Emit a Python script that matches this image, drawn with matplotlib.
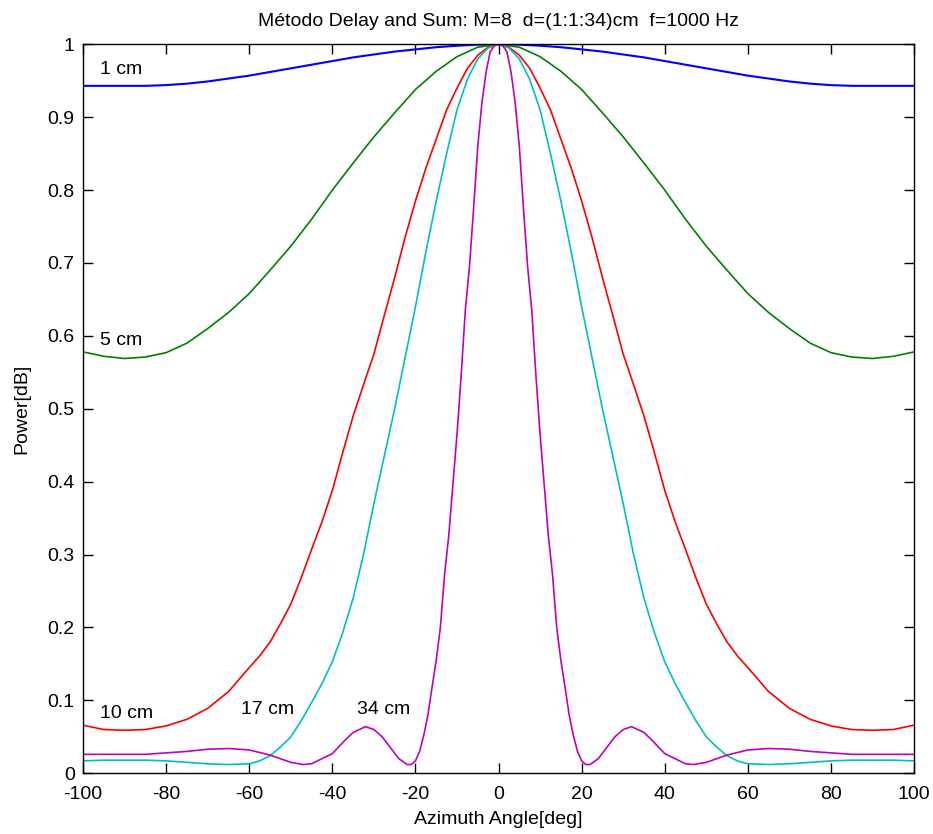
import matplotlib
matplotlib.use("Agg")
import matplotlib.pyplot as plt

plt.rcParams['font.family'] = ['Liberation Sans', 'DejaVu Sans']
plt.rcParams['axes.unicode_minus'] = False

# azimuth grid (deg) used for the wide curves
ang = [-100, -95, -90, -85, -80, -75, -70, -65, -60, -55, -50, -45, -40, -35, -30, -25, -20, -15, -10, -5,
       0, 5, 10, 15, 20, 25, 30, 35, 40, 45, 50, 55, 60, 65, 70, 75, 80, 85, 90, 95, 100]

# d = 1 cm
p_1cm = [0.943, 0.943, 0.943, 0.943, 0.944, 0.946, 0.949, 0.953, 0.957, 0.962, 0.967, 0.972, 0.977, 0.982,
         0.986, 0.990, 0.993, 0.996, 0.998, 0.9995,
         1.0,
         0.9995, 0.998, 0.996, 0.993, 0.990, 0.986, 0.982, 0.977, 0.972, 0.967, 0.962, 0.957, 0.953, 0.949,
         0.946, 0.944, 0.943, 0.943, 0.943, 0.943]

# d = 5 cm
p_5cm = [0.578, 0.572, 0.569, 0.571, 0.577, 0.590, 0.610, 0.632, 0.658, 0.690, 0.723, 0.760, 0.800, 0.837,
         0.873, 0.906, 0.938, 0.963, 0.983, 0.996,
         1.0,
         0.996, 0.983, 0.963, 0.938, 0.906, 0.873, 0.837, 0.800, 0.760, 0.723, 0.690, 0.658, 0.632, 0.610,
         0.590, 0.577, 0.571, 0.569, 0.572, 0.578]

# finer grid for the 10 cm and 17 cm curves
ang_b = [-100, -95, -90, -85, -80, -75, -70, -65, -60, -57.5, -55, -52.5, -50, -47.5, -45, -42.5, -40,
         -37.5, -35, -32.5, -30, -27.5, -25, -22.5, -20, -17.5, -15, -12.5, -10, -7.5, -5, -2.5,
         0, 2.5, 5, 7.5, 10, 12.5, 15, 17.5, 20, 22.5, 25, 27.5, 30, 32.5, 35, 37.5, 40, 42.5, 45,
         47.5, 50, 52.5, 55, 57.5, 60, 65, 70, 75, 80, 85, 90, 95, 100]

# d = 10 cm
p_10cm = [0.066, 0.060, 0.059, 0.060, 0.065, 0.074, 0.089, 0.112, 0.145, 0.161, 0.180, 0.205, 0.232, 0.268,
          0.307, 0.345, 0.388, 0.440, 0.490, 0.533, 0.575, 0.628, 0.680, 0.735, 0.785, 0.830, 0.870, 0.910,
          0.940, 0.967, 0.985, 0.996,
          1.0,
          0.996, 0.985, 0.967, 0.940, 0.910, 0.870, 0.830, 0.785, 0.735, 0.680, 0.628, 0.575, 0.533, 0.490,
          0.440, 0.388, 0.345, 0.307, 0.268, 0.232, 0.205, 0.180, 0.161, 0.145, 0.112, 0.089, 0.074, 0.065,
          0.060, 0.059, 0.060, 0.066]

# d = 17 cm
p_17cm = [0.017, 0.018, 0.018, 0.018, 0.017, 0.015, 0.013, 0.012, 0.013, 0.017, 0.024, 0.036, 0.050, 0.072,
          0.097, 0.123, 0.153, 0.193, 0.240, 0.300, 0.370, 0.435, 0.500, 0.570, 0.640, 0.715, 0.785, 0.850,
          0.910, 0.952, 0.980, 0.995,
          1.0,
          0.995, 0.980, 0.952, 0.910, 0.850, 0.785, 0.715, 0.640, 0.570, 0.500, 0.435, 0.370, 0.300, 0.240,
          0.193, 0.153, 0.123, 0.097, 0.072, 0.050, 0.036, 0.024, 0.017, 0.013, 0.012, 0.013, 0.015, 0.017,
          0.018, 0.018, 0.018, 0.017]

# d = 34 cm (narrow main lobe, finer angle grid)
ang_34 = [-100, -95, -90, -85, -80, -75, -70, -65, -60, -55, -50, -47, -45, -40, -37, -35, -32, -30, -28, -26,
          -24, -22, -21, -20, -19, -18, -17, -16, -15, -14, -13, -12, -11, -10, -9, -8, -7, -6, -5, -4,
          -3, -2, -1, 0, 1, 2, 3, 4, 5, 6, 7, 8, 9, 10, 11, 12, 13, 14, 15, 16, 17, 18, 19, 20, 21, 22,
          24, 26, 28, 30, 32, 35, 37, 40, 45, 47, 50, 55, 60, 65, 70, 75, 80, 85, 90, 95, 100]
p_34cm = [0.026, 0.026, 0.026, 0.026, 0.028, 0.030, 0.033, 0.034, 0.032, 0.025, 0.015, 0.012, 0.013, 0.027,
          0.045, 0.056, 0.064, 0.060, 0.050, 0.035, 0.020, 0.012, 0.012, 0.017, 0.030, 0.052, 0.080, 0.118,
          0.155, 0.200, 0.272, 0.325, 0.395, 0.465, 0.545, 0.635, 0.695, 0.775, 0.860, 0.920, 0.962, 0.990,
          0.998, 1.0, 0.998, 0.990, 0.962, 0.920, 0.860, 0.775, 0.695, 0.635, 0.545, 0.465, 0.395, 0.325,
          0.272, 0.200, 0.155, 0.118, 0.080, 0.052, 0.030, 0.017, 0.012, 0.012, 0.020, 0.035, 0.050, 0.060,
          0.064, 0.056, 0.045, 0.027, 0.013, 0.012, 0.015, 0.025, 0.032, 0.034, 0.033, 0.030, 0.028, 0.026,
          0.026, 0.026, 0.026]

labels = ['1 cm', '5 cm', '10 cm', '17 cm', '34 cm']
label_x = [-96.0, -96.0, -96.0, -62.0, -34.0]
label_y = [0.966, 0.594, 0.082, 0.088, 0.088]

fig = plt.figure(figsize=(9.33, 8.34), dpi=100)
ax = fig.add_axes([0.089, 0.0728, 0.8907, 0.8741])

ax.plot(ang, p_1cm, color=(0, 0, 1), lw=1.5)
ax.plot(ang, p_5cm, color=(0, 0.5, 0), lw=1.2)
ax.plot(ang_b, p_10cm, color=(1, 0, 0), lw=1.2)
ax.plot(ang_b, p_17cm, color=(0, 0.75, 0.75), lw=1.2)
ax.plot(ang_34, p_34cm, color=(0.75, 0, 0.75), lw=1.2)

for t, x, y in zip(labels, label_x, label_y):
    ax.text(x, y, t, fontsize=14, ha='left', va='center')

ax.set_xlim(-100, 100)
ax.set_ylim(0, 1)
ax.set_xticks(range(-100, 101, 20))
ax.set_yticks([i / 10 for i in range(11)])
ax.set_yticklabels(['0', '0.1', '0.2', '0.3', '0.4', '0.5', '0.6', '0.7', '0.8', '0.9', '1'])
ax.tick_params(direction='in', length=7, width=1, top=True, right=True, labelsize=14)
ax.tick_params(axis='x', pad=9)
ax.tick_params(axis='y', pad=6)
for s in ax.spines.values():
    s.set_linewidth(1.0)

ax.set_title('Método Delay and Sum: M=8  d=(1:1:34)cm  f=1000 Hz', fontsize=14, pad=13)
ax.set_xlabel('Azimuth Angle[deg]', fontsize=14, labelpad=6)
ax.set_ylabel('Power[dB]', fontsize=14, labelpad=12)

fig.savefig('out.png', dpi=100)
